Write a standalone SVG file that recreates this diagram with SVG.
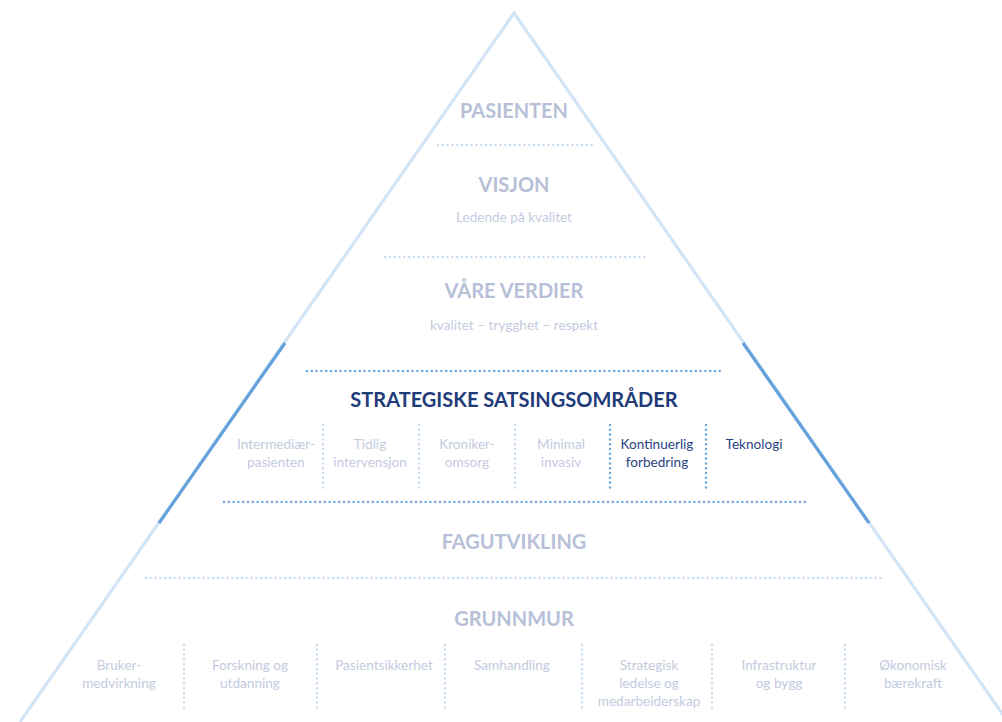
<svg xmlns="http://www.w3.org/2000/svg" width="1002" height="722" viewBox="0 0 1002 722">
<style>
.h{font-family:Lato,"Open Sans","Liberation Sans",sans-serif;font-weight:700;font-size:20px;fill:#b7c0d7;text-anchor:middle}
.hd{fill:#1f3b7a}
.s{font-family:Lato,"Open Sans","Liberation Sans",sans-serif;font-size:13.6px;fill:#c4cbdf;text-anchor:middle}
.sd{fill:#2a4383}
.dl{stroke:#c9ddf1;stroke-width:2.5;stroke-linecap:round;stroke-dasharray:0 4.8;fill:none}
.dd{stroke:#6aa5dc;stroke-width:2.5;stroke-linecap:round;stroke-dasharray:0 4.8;fill:none}
.tri{stroke:#d3e5f5;stroke-width:3.2;fill:none}
.tridk{stroke:#65a2dc;stroke-width:3.2;fill:none}
</style>
<rect width="1002" height="722" fill="#ffffff"/>
<g id="pyramid">
<polyline class="tri" points="20,722 514,13 1008,722"/>
<line class="tridk" x1="285" y1="343" x2="159" y2="523"/>
<line class="tridk" x1="743" y1="343" x2="869" y2="523"/>
</g>
<g id="connectors">
<line class="dl" x1="438" y1="145" x2="592" y2="145"/>
<line class="dl" x1="385" y1="257" x2="645" y2="257"/>
<line class="dd" x1="307" y1="371" x2="723" y2="371"/>
<line class="dd" x1="224" y1="502" x2="805" y2="502"/>
<line class="dl" x1="146" y1="578" x2="885" y2="578"/>
<line class="dl" x1="323" y1="425" x2="323" y2="489"/>
<line class="dl" x1="419" y1="425" x2="419" y2="489"/>
<line class="dl" x1="515" y1="425" x2="515" y2="489"/>
<line class="dd" x1="610" y1="425" x2="610" y2="489"/>
<line class="dd" x1="706" y1="425" x2="706" y2="489"/>
<line class="dl" x1="184" y1="645" x2="184" y2="709"/>
<line class="dl" x1="317" y1="645" x2="317" y2="709"/>
<line class="dl" x1="445" y1="645" x2="445" y2="709"/>
<line class="dl" x1="582" y1="645" x2="582" y2="709"/>
<line class="dl" x1="712" y1="645" x2="712" y2="709"/>
<line class="dl" x1="845" y1="645" x2="845" y2="709"/>
</g>
<g id="pasienten"><text class="h" x="514" y="118">PASIENTEN</text></g>
<g id="visjon"><text class="h" x="514" y="192">VISJON</text><text class="s" x="514" y="222">Ledende på kvalitet</text></g>
<g id="verdier"><text class="h" x="514" y="298">VÅRE VERDIER</text><text class="s" x="514" y="330">kvalitet – trygghet – respekt</text></g>
<g id="strategiske"><text class="h hd" x="514" y="407">STRATEGISKE SATSINGSOMRÅDER</text></g>
<g id="intermediaer"><text class="s" x="276" y="449">Intermediær-</text><text class="s" x="276" y="467">pasienten</text></g>
<g id="tidlig"><text class="s" x="370" y="449">Tidlig</text><text class="s" x="370" y="467">intervensjon</text></g>
<g id="kroniker"><text class="s" x="467" y="449">Kroniker-</text><text class="s" x="467" y="467">omsorg</text></g>
<g id="minimal"><text class="s" x="561" y="449">Minimal</text><text class="s" x="561" y="467">invasiv</text></g>
<g id="kontinuerlig"><text class="s sd" x="657" y="449">Kontinuerlig</text><text class="s sd" x="657" y="467">forbedring</text></g>
<g id="teknologi"><text class="s sd" x="754" y="449">Teknologi</text></g>
<g id="fagutvikling"><text class="h" x="514" y="549">FAGUTVIKLING</text></g>
<g id="grunnmur"><text class="h" x="514" y="626">GRUNNMUR</text></g>
<g id="bruker"><text class="s" x="119" y="670">Bruker-</text><text class="s" x="119" y="688">medvirkning</text></g>
<g id="forskning"><text class="s" x="250" y="670">Forskning og</text><text class="s" x="250" y="688">utdanning</text></g>
<g id="pasientsikkerhet"><text class="s" x="384" y="670">Pasientsikkerhet</text></g>
<g id="samhandling"><text class="s" x="512" y="670">Samhandling</text></g>
<g id="strategisk"><text class="s" x="649" y="670">Strategisk</text><text class="s" x="649" y="688">ledelse og</text><text class="s" x="649" y="706">medarbeiderskap</text></g>
<g id="infrastruktur"><text class="s" x="779" y="670">Infrastruktur</text><text class="s" x="779" y="688">og bygg</text></g>
<g id="okonomisk"><text class="s" x="913" y="670">Økonomisk</text><text class="s" x="913" y="688">bærekraft</text></g>
</svg>
